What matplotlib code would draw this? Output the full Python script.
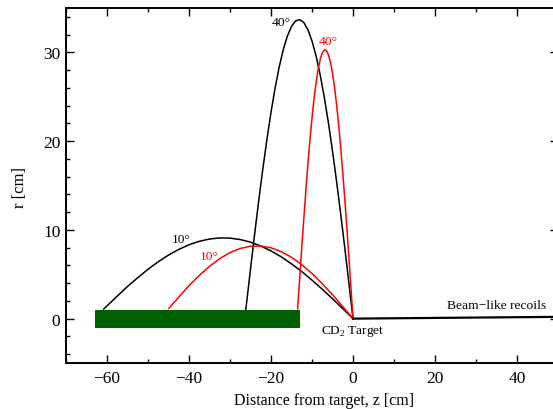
import matplotlib
matplotlib.use('Agg')
import matplotlib.pyplot as plt
from matplotlib.ticker import MultipleLocator

plt.rcParams['font.family'] = ['Liberation Serif', 'DejaVu Serif']
plt.rcParams['mathtext.fontset'] = 'custom'
plt.rcParams['mathtext.rm'] = 'Liberation Serif'

# --- data (z [cm], r [cm]) ---
z_black10 = [0, -2.5, -5, -7.5, -10, -12.5, -15, -17.5, -20, -22.5, -25, -27.5, -30,
             -32.5, -35, -37.5, -40, -42.5, -45, -47.5, -50, -52.5, -55, -57.5, -60, -60.8]
r_black10 = [0, 1.13, 2.24, 3.31, 4.34, 5.30, 6.17, 6.96, 7.63, 8.18, 8.62, 8.91, 9.07,
             9.09, 8.97, 8.71, 8.32, 7.80, 7.16, 6.41, 5.56, 4.61, 3.62, 2.54, 1.44, 1.08]

z_red10 = [0, -2.5, -5, -7.5, -10, -12.5, -15, -17.5, -20, -22.5, -25, -27.5, -30,
           -32.5, -35, -37.5, -40, -42.5, -44.9]
r_red10 = [0, 1.36, 2.69, 3.94, 5.08, 6.08, 6.91, 7.55, 7.98, 8.18, 8.16, 7.91, 7.44,
           6.76, 5.89, 4.86, 3.71, 2.43, 1.15]

z_black40 = [0, -1, -2, -3, -4, -5, -6, -7, -8, -9, -10, -11, -12, -13, -14, -15, -16,
             -17, -18, -19, -20, -21, -22, -23, -24, -25, -26, -26.15]
r_black40 = [0, 4.00, 7.95, 11.78, 15.44, 18.89, 22.07, 24.94, 27.46, 29.58, 31.28, 32.55,
             33.36, 33.69, 33.55, 32.93, 31.85, 30.32, 28.36, 25.98, 23.24, 20.17, 16.85,
             13.27, 9.50, 5.58, 1.60, 1.0]

z_red40 = [0, -0.5, -1, -1.5, -2, -2.5, -3, -3.5, -4, -4.5, -5, -5.5, -6, -6.5, -7, -7.5,
           -8, -8.5, -9, -9.5, -10, -10.5, -11, -11.5, -12, -12.5, -13, -13.5]
r_red40 = [0, 3.48, 6.90, 10.25, 13.45, 16.48, 19.29, 21.84, 24.11, 26.05, 27.66, 28.89,
           29.75, 30.21, 30.28, 29.94, 29.20, 28.10, 26.60, 24.77, 22.59, 20.12, 17.40,
           14.41, 11.27, 7.98, 4.58, 1.1]

z_beam = [0, 50]
r_beam = [0, 0.2]

# detector array (green bar)
bar_z = [-63, -13]
bar_r = [-1, 1]

fig = plt.figure(figsize=(5.53, 4.10), dpi=100)
ax = fig.add_axes([66/553, 46/410, 492/553, 355/410])

ax.fill_between(bar_z, bar_r[0], bar_r[1], color='#005f00', lw=0, zorder=2)

ax.plot(z_black10, r_black10, color='black', lw=1.1, zorder=3)
ax.plot(z_red10, r_red10, color='red', lw=1.1, zorder=3)
ax.plot(z_black40, r_black40, color='black', lw=1.1, zorder=3)
ax.plot(z_red40, r_red40, color='red', lw=1.1, zorder=3)
ax.plot(z_beam, r_beam, color='black', lw=1.6, zorder=3)

# labels on the trajectories
ax.text(-17.6, 33.4, '40°', color='black', fontsize=9.7, ha='center', va='center')
ax.text(-6.1, 31.3, '40°', color='red', fontsize=9.7, ha='center', va='center')
ax.text(-42, 9.0, '10°', color='black', fontsize=9.7, ha='center', va='center')
ax.text(-35, 7.05, '10°', color='red', fontsize=9.7, ha='center', va='center')
ax.text(0, -1.35, 'CD$_2$ Target', fontsize=9.5, ha='center', va='center')
ax.text(35.1, 1.5, 'Beam\u2212like recoils', fontsize=9.7, ha='center', va='center')

ax.set_xlim(-70, 50)
ax.set_ylim(-5, 35)
ax.xaxis.set_major_locator(MultipleLocator(20))
ax.xaxis.set_minor_locator(MultipleLocator(10))
ax.yaxis.set_major_locator(MultipleLocator(10))
ax.yaxis.set_minor_locator(MultipleLocator(2))
ax.tick_params(which='both', direction='in', top=True, right=True, labelsize=12.5, width=1.0)
ax.tick_params(which='major', length=5.8)
ax.tick_params(which='minor', length=2.9)
ax.tick_params(axis='x', pad=5)
ax.tick_params(axis='y', pad=4)
for s in ax.spines.values():
    s.set_linewidth(1.4)

ax.set_xlabel('Distance from target, z [cm]', fontsize=11.5)
ax.set_ylabel('r [cm]', fontsize=12)
ax.xaxis.set_label_coords(0.5254, -0.104)
ax.xaxis.label.set_va('center')
ax.yaxis.set_label_coords(-0.0935, 0.496)
ax.yaxis.label.set_va('center')

fig.savefig('out.png', dpi=100)
